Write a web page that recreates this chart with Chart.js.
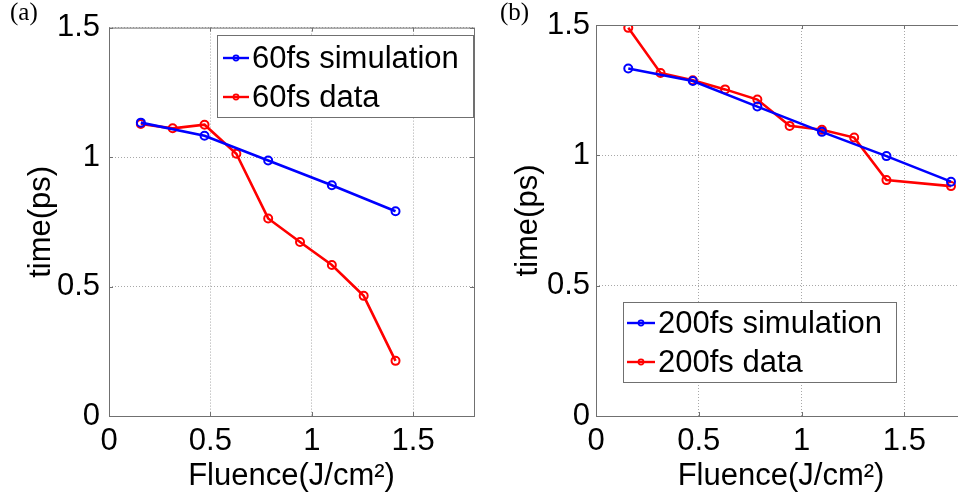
<!DOCTYPE html>
<html lang="en">
<head>
    <meta charset="UTF-8">
    <title>Fluence vs time</title>
    <script src="https://cdn.jsdelivr.net/npm/chart.js"></script>
    <style>
        html, body { margin: 0; padding: 0; background: #fff; overflow: hidden; width: 958px; height: 497px; }
        .panel { position: absolute; top: 0; }
        #panelA { left: 0; width: 480px; height: 497px; }
        #panelB { left: 480px; width: 500px; height: 497px; }
    </style>
</head>
<body>
    <div id="panelA" class="panel"><canvas id="chartA" width="480" height="497"></canvas></div>
    <div id="panelB" class="panel"><canvas id="chartB" width="500" height="497"></canvas></div>

    <script>
        // values
        const xSim60 = [0.157, 0.471, 0.785, 1.099, 1.413];
        const ySim60 = [1.133, 1.082, 0.987, 0.891, 0.791];
        const xData60 = [0.157, 0.314, 0.471, 0.628, 0.785, 0.942, 1.099, 1.256, 1.413];
        const yData60 = [1.128, 1.111, 1.125, 1.013, 0.763, 0.672, 0.583, 0.464, 0.213];

        const xSim200 = [0.157, 0.471, 0.785, 1.099, 1.413, 1.727];
        const ySim200 = [1.333, 1.285, 1.187, 1.090, 0.997, 0.899];
        const xData200 = [0.157, 0.314, 0.471, 0.628, 0.785, 0.942, 1.099, 1.256, 1.413, 1.727];
        const yData200 = [1.489, 1.316, 1.288, 1.253, 1.214, 1.113, 1.098, 1.068, 0.905, 0.882];

        const xTicks = [0, 0.5, 1, 1.5];
        const yTicks = [0, 0.5, 1, 1.5];

        const FONT = "'Liberation Sans', Arial, sans-serif";
        const FONT_SIZE = 31;

        function toPoints(xs, ys) {
            return xs.map((x, i) => ({ x: x, y: ys[i] }));
        }

        function series(label, xs, ys, color) {
            return {
                label: label,
                data: toPoints(xs, ys),
                showLine: true,
                borderColor: color,
                backgroundColor: 'rgba(0,0,0,0)',
                borderWidth: 2.6,
                pointRadius: 4,
                pointBorderWidth: 2,
                pointBorderColor: color,
                pointBackgroundColor: 'rgba(0,0,0,0)',
                tension: 0
            };
        }

        // matlab style box, inward ticks, legend and panel letter
        const decorPlugin = {
            id: 'decor',
            afterDraw(chart, args, opts) {
                const ctx = chart.ctx;
                const a = chart.chartArea;
                const sx = chart.scales.x, sy = chart.scales.y;
                ctx.save();
                ctx.strokeStyle = '#707070';
                ctx.lineWidth = 1;
                ctx.strokeRect(a.left + 0.5, a.top + 0.5, a.right - a.left, a.bottom - a.top);
                ctx.beginPath();
                xTicks.forEach(v => {
                    const px = Math.round(sx.getPixelForValue(v)) + 0.5;
                    ctx.moveTo(px, a.bottom); ctx.lineTo(px, a.bottom - 4);
                    ctx.moveTo(px, a.top); ctx.lineTo(px, a.top + 4);
                });
                yTicks.forEach(v => {
                    const py = Math.round(sy.getPixelForValue(v)) + 0.5;
                    ctx.moveTo(a.left, py); ctx.lineTo(a.left + 4, py);
                    ctx.moveTo(a.right, py); ctx.lineTo(a.right - 4, py);
                });
                ctx.stroke();

                // legend
                const lg = opts.legend;
                ctx.fillStyle = '#fff';
                ctx.fillRect(lg.x, lg.y, lg.w, lg.h);
                ctx.strokeStyle = '#707070';
                ctx.strokeRect(lg.x + 0.5, lg.y + 0.5, lg.w, lg.h);
                ctx.font = FONT_SIZE + 'px ' + FONT;
                ctx.textBaseline = 'middle';
                ctx.textAlign = 'left';
                chart.data.datasets.forEach((ds, i) => {
                    const ry = lg.y + lg.first + i * lg.gap;
                    const x0 = lg.x + lg.lineStart, x1 = x0 + lg.lineLen;
                    ctx.strokeStyle = ds.borderColor;
                    ctx.lineWidth = 2.4;
                    ctx.beginPath();
                    ctx.moveTo(x0, ry); ctx.lineTo(x1, ry);
                    ctx.stroke();
                    ctx.lineWidth = 1.6;
                    ctx.beginPath();
                    ctx.arc((x0 + x1) / 2, ry, 2.6, 0, Math.PI * 2);
                    ctx.stroke();
                    ctx.fillStyle = '#000';
                    ctx.fillText(ds.label, x1 + 3, ry + 1);
                });

                // panel letter
                ctx.font = "25px 'Liberation Serif', 'Times New Roman', serif";
                ctx.textBaseline = 'alphabetic';
                ctx.fillStyle = '#000';
                ctx.fillText(opts.letter, opts.letterX, 20);
                ctx.restore();
            }
        };

        function makeChart(canvasId, datasets, cfg) {
            return new Chart(document.getElementById(canvasId), {
                type: 'scatter',
                data: { datasets: datasets },
                plugins: [decorPlugin],
                options: {
                    responsive: false,
                    animation: false,
                    layout: { padding: { left: 0, right: cfg.padRight, top: 25, bottom: 0 } },
                    plugins: {
                        legend: { display: false },
                        tooltip: { enabled: false },
                        decor: { legend: cfg.legend, letter: cfg.letter, letterX: cfg.letterX }
                    },
                    scales: {
                        x: {
                            type: 'linear',
                            min: 0,
                            max: 1.8,
                            afterFit: s => { s.height = 81; },
                            afterBuildTicks: s => { s.ticks = xTicks.map(v => ({ value: v })); },
                            ticks: {
                                color: '#000',
                                padding: 7,
                                font: { family: FONT, size: FONT_SIZE },
                                callback: v => String(v)
                            },
                            grid: { color: '#a8a8a8', lineWidth: 1, drawTicks: false },
                            border: { display: false, dash: [1, 2] },
                            title: {
                                display: true,
                                text: 'Fluence(J/cm²)',
                                color: '#000',
                                font: { family: FONT, size: FONT_SIZE },
                                padding: { top: 0, bottom: 2 }
                            }
                        },
                        y: {
                            type: 'linear',
                            min: 0,
                            max: 1.5,
                            afterFit: s => { s.width = cfg.yWidth; },
                            afterBuildTicks: s => { s.ticks = yTicks.map(v => ({ value: v })); },
                            ticks: {
                                color: '#000',
                                padding: cfg.yPad,
                                font: { family: FONT, size: FONT_SIZE },
                                callback: v => String(v)
                            },
                            grid: { color: '#a8a8a8', lineWidth: 1, drawTicks: false },
                            border: { display: false, dash: [1, 2] },
                            title: {
                                display: true,
                                text: 'time(ps)',
                                color: '#000',
                                font: { family: FONT, size: FONT_SIZE },
                                padding: { top: cfg.yTitlePad, bottom: 0 }
                            }
                        }
                    }
                }
            });
        }

        makeChart('chartA', [
            series('60fs simulation', xSim60, ySim60, '#0000ff'),
            series('60fs data', xData60, yData60, '#ff0000')
        ], {
            padRight: 2, yWidth: 109, yPad: 9, yTitlePad: 23,
            letter: '(a)', letterX: 10,
            legend: { x: 217, y: 35, w: 256, h: 82, first: 23, gap: 39, lineStart: 6, lineLen: 26 }
        });

        makeChart('chartB', [
            series('200fs simulation', xSim200, ySim200, '#0000ff'),
            series('200fs data', xData200, yData200, '#ff0000')
        ], {
            padRight: 14, yWidth: 116, yPad: 6, yTitlePad: 30,
            letter: '(b)', letterX: 20,
            legend: { x: 143, y: 302, w: 273, h: 80, first: 21, gap: 39, lineStart: 4, lineLen: 28 }
        });
    </script>
</body>
</html>
